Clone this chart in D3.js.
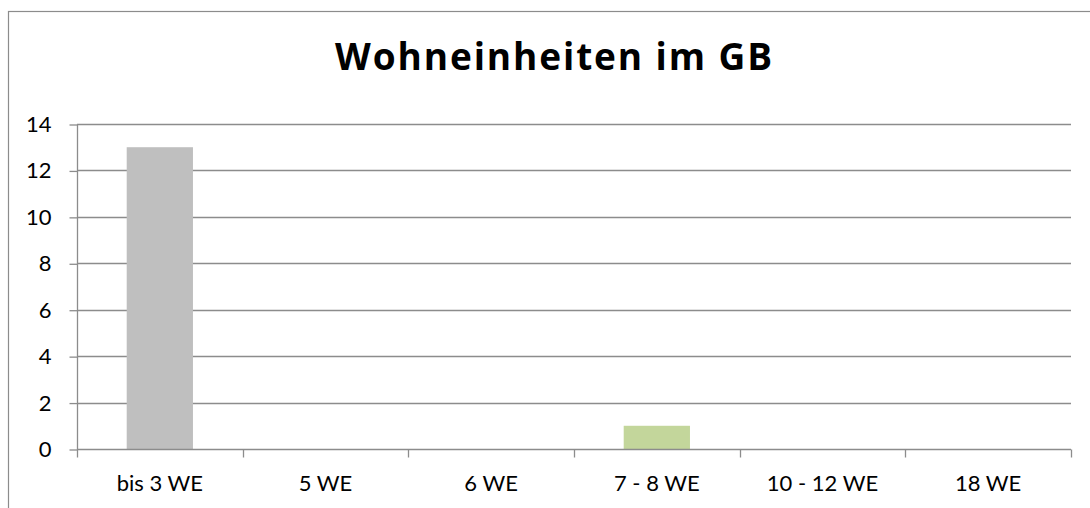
<!DOCTYPE html>
<html>
<head>
<meta charset="utf-8">
<script src="https://cdn.jsdelivr.net/npm/d3@7"></script>
<style>
  html, body { margin: 0; padding: 0; background: #fff; }
  svg { display: block; }
  text { font-family: Lato, "Open Sans", sans-serif; fill: #000; }
</style>
</head>
<body>
<svg id="chart" width="1090" height="508"></svg>
<script>
// Number of buildings by count of dwelling units
const categories = ["bis 3 WE", "5 WE", "6 WE", "7 - 8 WE", "10 - 12 WE", "18 WE"];
const values = [13, 0, 0, 1, 0, 0];
const barColors = ["#bfbfbf", "#bfbfbf", "#bfbfbf", "#c3d69b", "#bfbfbf", "#bfbfbf"];
const yTicks = [0, 2, 4, 6, 8, 10, 12, 14];
const title = "Wohneinheiten im GB";

const svg = d3.select("#chart");
const W = 1090, H = 508;
const plot = { left: 77, right: 1071, top: 124, bottom: 449 };
const axisColor = "#8c8c8c";
const labelSize = 22;

// outer chart frame
svg.append("rect")
  .attr("x", 8.5).attr("y", 11.5)
  .attr("width", W + 20).attr("height", H + 20)
  .attr("fill", "#fff").attr("stroke", axisColor).attr("stroke-width", 1.2);

svg.append("text")
  .attr("x", 553.5).attr("y", 70)
  .attr("text-anchor", "middle")
  .style("font-family", "'Open Sans', Lato, sans-serif")
  .attr("font-size", 37).attr("font-weight", "bold")
  .attr("textLength", 437).attr("lengthAdjust", "spacing")
  .text(title);

const x = d3.scaleBand().domain(categories).range([plot.left, plot.right]).paddingInner(0).paddingOuter(0);
const y = d3.scaleLinear().domain([0, 14]).range([plot.bottom, plot.top]);

// horizontal gridlines
svg.append("g").selectAll("line").data(yTicks.filter(d => d > 0)).join("line")
  .attr("x1", plot.left).attr("x2", plot.right)
  .attr("y1", d => Math.round(y(d)) + 0.5).attr("y2", d => Math.round(y(d)) + 0.5)
  .attr("stroke", axisColor).attr("stroke-width", 1.3);

// bars: width = band / 2.5 (gap width 150%)
const bw = x.bandwidth() / 2.5;
svg.append("g").selectAll("rect").data(categories).join("rect")
  .attr("x", d => x(d) + (x.bandwidth() - bw) / 2)
  .attr("width", bw)
  .attr("y", (d, i) => y(values[i]))
  .attr("height", (d, i) => y(0) - y(values[i]))
  .attr("fill", (d, i) => barColors[i]);

// y axis
const yAxis = d3.axisLeft(y).tickValues(yTicks).tickSize(8).tickPadding(18).tickFormat(d3.format("d"));
const gy = svg.append("g").attr("transform", `translate(${plot.left + 0.5},0.5)`).call(yAxis);
gy.select(".domain").attr("stroke", axisColor).attr("stroke-width", 1.3).attr("d", `M0,${plot.top}V${plot.bottom}`);
gy.selectAll(".tick line").attr("stroke", axisColor).attr("stroke-width", 1.3);
gy.selectAll(".tick text").attr("font-size", labelSize).attr("fill", "#000");

// x axis with ticks at category boundaries
const gx = svg.append("g").attr("transform", `translate(0,${plot.bottom + 0.5})`);
gx.append("line").attr("x1", plot.left).attr("x2", plot.right)
  .attr("stroke", axisColor).attr("stroke-width", 1.3);
const bounds = categories.map(c => x(c)).concat([plot.right]);
gx.selectAll("line.tk").data(bounds).join("line").attr("class", "tk")
  .attr("x1", d => Math.round(d) + 0.5).attr("x2", d => Math.round(d) + 0.5)
  .attr("y1", 0).attr("y2", 8)
  .attr("stroke", axisColor).attr("stroke-width", 1.3);
gx.selectAll("text").data(categories).join("text")
  .attr("x", d => x(d) + x.bandwidth() / 2)
  .attr("y", 41)
  .attr("text-anchor", "middle")
  .attr("font-size", labelSize)
  .text(d => d);
</script>
</body>
</html>
